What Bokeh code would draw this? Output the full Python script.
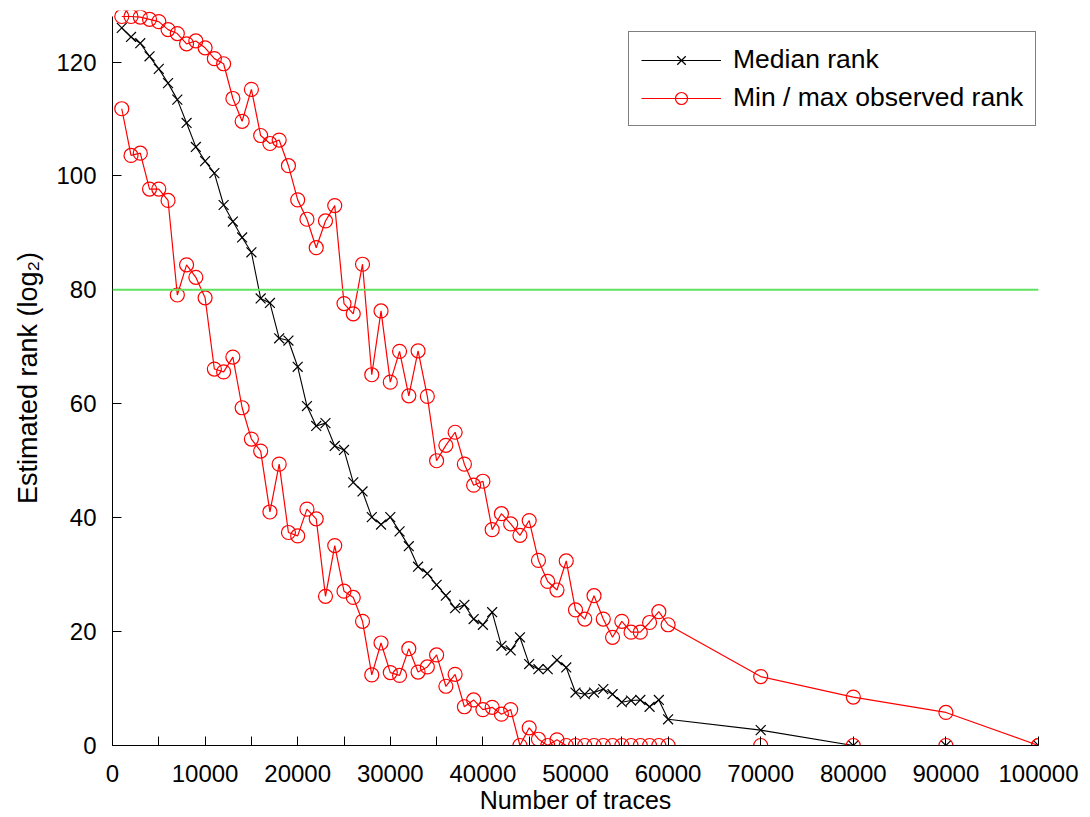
from bokeh.plotting import figure
from bokeh.models import Range1d, FixedTicker, Span, Legend, LegendItem, BasicTickFormatter
from bokeh.embed import file_html
from bokeh.resources import INLINE

traces = list(range(1000, 61000, 1000)) + [70000, 80000, 90000, 100000]

median_rank = [
    126.0, 124.4, 123.3, 121.0, 118.8, 116.3, 113.4, 109.3, 105.1, 102.6,
    100.5, 94.9, 92.0, 89.2, 86.6, 78.5, 77.7, 71.5, 71.1, 66.5,
    59.6, 56.1, 56.6, 52.6, 51.9, 46.2, 44.6, 40.1, 38.8, 40.1,
    37.6, 35.0, 31.4, 30.2, 28.2, 26.3, 24.1, 24.7, 22.2, 21.2,
    23.4, 17.5, 16.7, 19.0, 14.3, 13.4, 13.4, 15.0, 13.7, 9.3,
    9.0, 9.3, 9.9, 9.0, 7.6, 7.9, 8.0, 6.8, 8.0, 4.6,
    2.7, 0.0, 0.0, 0.0,
]

max_rank = [
    128.0, 128.0, 127.9, 127.5, 127.1, 125.7, 125.0, 123.2, 123.7, 122.5,
    120.6, 119.7, 113.6, 109.6, 115.2, 107.1, 105.7, 106.3, 101.8, 95.8,
    92.4, 87.4, 92.1, 94.8, 77.6, 75.8, 84.5, 65.1, 76.3, 63.8,
    69.2, 61.4, 69.3, 61.3, 50.0, 52.7, 55.0, 49.4, 45.7, 46.4,
    37.9, 40.7, 38.9, 36.9, 39.5, 32.5, 28.8, 27.3, 32.4, 23.8,
    22.2, 26.3, 22.2, 19.0, 21.8, 19.9, 19.9, 21.6, 23.5, 21.2,
    12.1, 8.5, 5.8, 0.0,
]

min_rank = [
    111.8, 103.6, 104.0, 97.7, 97.7, 95.7, 79.1, 84.4, 82.2, 78.6,
    66.1, 65.6, 68.2, 59.3, 53.8, 51.7, 41.0, 49.4, 37.4, 36.8,
    41.5, 39.8, 26.2, 35.1, 27.1, 26.0, 21.8, 12.4, 18.0, 12.8,
    12.3, 17.0, 12.9, 13.8, 15.9, 10.4, 12.5, 6.8, 8.0, 6.3,
    6.7, 5.5, 6.3, 0.0, 3.1, 1.1, 0.0, 1.0, 0.0, 0.0,
    0.0, 0.0, 0.0, 0.0, 0.0, 0.0, 0.0, 0.0, 0.0, 0.0,
    0.0, 0.0, 0.0, 0.0,
]

threshold = 80
x_major_ticks = [0, 10000, 20000, 30000, 40000, 50000, 60000, 70000, 80000, 90000, 100000]
x_minor_ticks = [5000, 15000, 25000, 35000, 45000, 55000]
y_ticks = [0, 20, 40, 60, 80, 100, 120]

FONT = "Liberation Sans"

p = figure(width=1090, height=817, title=None,
           x_range=Range1d(0, 100000), y_range=Range1d(0, 129.05),
           output_backend="svg", toolbar_location=None,
           min_border_left=112, min_border_right=52,
           min_border_top=10, min_border_bottom=72)

p.grid.visible = False
p.outline_line_color = None
p.background_fill_color = "white"
p.border_fill_color = "white"

# axes
p.xaxis.ticker = FixedTicker(ticks=x_major_ticks, minor_ticks=x_minor_ticks)
p.yaxis.ticker = FixedTicker(ticks=y_ticks)
p.xaxis.formatter = BasicTickFormatter(use_scientific=False)
p.xaxis.bounds = (0, 100000)
p.yaxis.bounds = (0, 128)
for ax in (p.xaxis, p.yaxis):
    ax.axis_line_color = "black"
    ax.axis_line_width = 1
    ax.major_tick_in = 9
    ax.major_tick_out = 0
    ax.major_tick_line_color = "black"
    ax.major_label_text_font = FONT
    ax.major_label_text_font_size = "24px"
    ax.major_label_text_color = "black"
    ax.axis_label_text_font = FONT
    ax.axis_label_text_font_style = "normal"
    ax.axis_label_text_color = "black"
p.xaxis.minor_tick_in = 9
p.xaxis.minor_tick_out = 0
p.xaxis.minor_tick_line_color = "black"
p.yaxis.minor_tick_line_color = None

p.xaxis.axis_label = "Number of traces"
p.xaxis.axis_label_text_font_size = "25px"
p.xaxis.major_label_standoff = 19
p.xaxis.axis_label_standoff = 1

p.yaxis.axis_label = "Estimated rank (log\u2082)"
p.yaxis.axis_label_text_font_size = "27px"
p.yaxis.major_label_standoff = 16
p.yaxis.axis_label_standoff = 10

# data
med_line = p.line(traces, median_rank, line_color="black", line_width=1.1)
med_pts = p.scatter(traces, median_rank, marker="x", size=14,
                    line_color="black", line_width=1.2)

max_line = p.line(traces, max_rank, line_color="red", line_width=1.2)
max_pts = p.scatter(traces, max_rank, marker="circle", size=14,
                    fill_color=None, line_color="red", line_width=1.2)
min_line = p.line(traces, min_rank, line_color="red", line_width=1.2)
min_pts = p.scatter(traces, min_rank, marker="circle", size=14,
                    fill_color=None, line_color="red", line_width=1.2)

p.add_layout(Span(location=threshold, dimension="width",
                  line_color="#5fe35f", line_width=2))

legend = Legend(items=[
    LegendItem(label="Median rank", renderers=[med_line, med_pts]),
    LegendItem(label="Min / max observed rank", renderers=[max_line, max_pts]),
], location=(516, 619))
legend.label_text_font = FONT
legend.label_text_font_size = "26.5px"
legend.label_text_color = "black"
legend.glyph_width = 80
legend.glyph_height = 30
legend.label_height = 30
legend.label_standoff = 12
legend.spacing = 7
legend.padding = 12
legend.margin = 0
legend.border_line_color = "black"
legend.border_line_width = 1
legend.background_fill_color = "white"
legend.background_fill_alpha = 1.0
p.add_layout(legend)

open("out.html", "w").write(file_html(p, INLINE))
